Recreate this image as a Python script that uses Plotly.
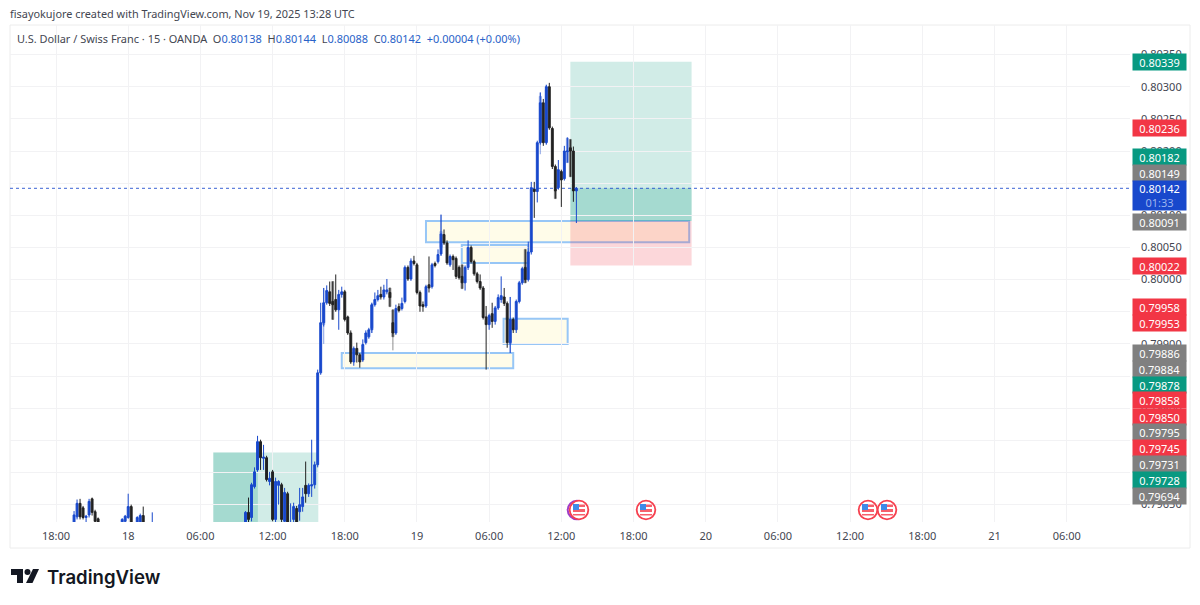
import datetime as dt
import plotly.graph_objects as go

W, H = 1200, 605
L, R, T, B = 10, 1130, 25, 522
FONT = "Noto Sans"

# ---- data -------------------------------------------------------------
first_time = dt.datetime(2025, 11, 17, 18, 0)
bar_minutes = 15
bar_slots = [*range(6, 15), *range(22, 26), *range(27, 30), 32, *range(63, 174)]

open_prices = [
 .79610,.79631,.79652,.79645,.79630,.79634,.79659,.79639,.79628,
 .79620,.79624,.79630,.79647,.79612,.79615,.79633,.79610,
 .79610,.79638,.79630,.79678,.79704,.79748,.79722,.79723,.79686,.79701,.79627,.79680,.79681,.79624,.79667,.79610,.79627,.79644,.79639,.79647,.79680,.79667,.79679,.79681,
 .79712,.79855,.79933,.79964,.79981,.79966,.79969,.79953,.79977,.79981,.79942,.79917,.79872,.79893,.79883,.79875,.79902,.79911,.79922,.79961,.79969,.79977,.79973,.79981,.79980,
 .79933,.79917,.79958,.79955,.79966,.80019,.80001,.80029,.80023,.79980,.79961,.79959,.79992,.79989,.80025,.80028,.80040,.80070,.80057,.80023,.80036,.80033,.80019,.80005,.79995,.80019,.80050,.80028,.80009,.79997,.79987,.79942,.79930,.79947,.79935,.79956,.79969,.79973,.79963,.79902,.79938,.79922,.79966,.79995,.80019,.80000,
 .80043,.80141,.80137,.80213,.80275,.80213,.80300,.80235,.80176,.80143,.80168,.80157,.80199,.80205,.80200,.80138]
close_prices = [
 .79634,.79652,.79631,.79630,.79632,.79655,.79638,.79624,.79622,
 .79627,.79632,.79647,.79610,.79630,.79633,.79610,.79615,
 .79638,.79627,.79681,.79701,.79748,.79723,.79724,.79689,.79691,.79627,.79686,.79686,.79627,.79669,.79610,.79620,.79647,.79610,.79650,.79662,.79667,.79680,.79681,.79712,
 .79855,.79933,.79964,.79983,.79963,.79961,.79953,.79977,.79981,.79938,.79917,.79872,.79893,.79883,.79872,.79899,.79917,.79922,.79961,.79969,.79975,.79973,.79984,.79984,.79972,
 .79917,.79955,.79952,.79963,.80019,.80001,.80029,.80025,.79980,.79959,.79958,.79989,.79987,.80023,.80022,.80039,.80071,.80057,.80026,.80036,.80031,.80005,.80003,.79995,.80019,.80050,.80028,.80009,.79997,.79987,.79941,.79930,.79944,.79935,.79956,.79972,.79975,.79963,.79902,.79938,.79922,.79966,.79995,.80017,.80000,.80043,
 .80143,.80137,.80213,.80275,.80213,.80300,.80236,.80176,.80138,.80171,.80155,.80200,.80200,.80200,.80138,.80142]
high_prices = [
 .79640,.79658,.79659,.79648,.79634,.79659,.79661,.79642,.79630,
 .79629,.79634,.79667,.79650,.79632,.79636,.79647,.79638,
 .79640,.79661,.79684,.79708,.79757,.79751,.79743,.79726,.79701,.79704,.79692,.79688,.79684,.79676,.79670,.79652,.79653,.79648,.79676,.79676,.79717,.79683,.79751,.79717,
 .79860,.79964,.79987,.79991,.79997,.79997,.80008,.79984,.79989,.79984,.79944,.79921,.79896,.79902,.79886,.79907,.79921,.79925,.79964,.79980,.79984,.79989,.79992,.80001,.79987,
 .79953,.79961,.79963,.79972,.80022,.80022,.80033,.80037,.80026,.79983,.79966,.79992,.80036,.80026,.80028,.80047,.80101,.80078,.80061,.80039,.80039,.80036,.80022,.80023,.80022,.80061,.80053,.80031,.80012,.80008,.79990,.79959,.79947,.79964,.79959,.79977,.80005,.79987,.79966,.79973,.79941,.79969,.79998,.80020,.80047,.80059,
 .80152,.80152,.80216,.80291,.80281,.80303,.80306,.80238,.80179,.80186,.80171,.80208,.80221,.80218,.80207,.80144]
low_prices = [
 .79600,.79627,.79627,.79627,.79620,.79630,.79633,.79615,.79615,
 .79615,.79620,.79628,.79600,.79605,.79605,.79600,.79600,
 .79600,.79619,.79624,.79675,.79701,.79704,.79704,.79686,.79680,.79624,.79621,.79650,.79621,.79610,.79600,.79600,.79620,.79600,.79625,.79639,.79653,.79662,.79662,.79675,
 .79708,.79852,.79927,.79961,.79959,.79938,.79950,.79922,.79972,.79935,.79914,.79869,.79866,.79871,.79863,.79872,.79899,.79908,.79917,.79958,.79966,.79969,.79969,.79977,.79958,
 .79911,.79914,.79949,.79952,.79963,.79998,.79998,.80022,.79977,.79950,.79950,.79956,.79980,.79986,.80019,.80025,.80037,.80054,.80023,.80020,.80015,.80001,.80000,.79986,.79983,.80015,.80025,.80006,.79994,.79984,.79938,.79860,.79922,.79925,.79930,.79953,.79964,.79959,.79894,.79886,.79917,.79917,.79963,.79992,.79995,.79997,
 .80039,.80096,.80120,.80210,.80208,.80210,.80233,.80172,.80126,.80140,.80113,.80154,.80182,.80160,.80121,.80088]

# faint double-exposed candles
ghost_up_slots = [89, 105, 128, 151, 161, 163, 170]
ghost_up_open = [.79930, .79925, .80050, .79900, .80215, .80215, .80182]
ghost_up_close = [.79960, .79960, .80075, .79938, .80285, .80295, .80220]
ghost_up_high = [.79987, .79964, .80101, .79973, .80291, .80303, .80221]
ghost_up_low = [.79900, .79917, .80037, .79886, .80195, .80210, .80182]
ghost_down_slots = [92, 111, 112, 135, 156, 166, 171]
ghost_down_open = [.79997, .79987, .79953, .80023, .80047, .80138, .80218]
ghost_down_close = [.79938, .79958, .79911, .79986, .79995, .80126, .80160]
ghost_down_high = [.79997, .79987, .79953, .80023, .80047, .80138, .80218]
ghost_down_low = [.79938, .79958, .79890, .79986, .79995, .80126, .80160]

y_ticks = [.80350,.80300,.80250,.80200,.80150,.80100,.80050,.80000,.79950,.79900,.79850,.79800,.79750,.79700,.79650]
x_tick_hours = [0,6,12,18,24,30,36,42,48,54,60,66,72,78,84]
x_tick_labels = ["18:00","18","06:00","12:00","18:00","19","06:00","12:00","18:00","20","06:00","12:00","18:00","21","06:00"]

last_price = .80142
tag_text = ["0.80339","0.80236","0.80182","0.80149","0.80091","0.80022","0.79958","0.79953","0.79886","0.79884","0.79878","0.79858","0.79850","0.79795","0.79745","0.79731","0.79728","0.79694"]
tag_kind = ["g","r","g","n","n","r","r","r","n","n","g","r","r","n","r","n","g","n"]

# long-position tools (price levels)
long_a = dict(start=171, end=211.3, target=.80339, current=.80142, entry=.80091, stop=.80022)
long_b = dict(start=52.3, end=87.2, split=67.1, target=.79731, floor=.79600)
# zones: start slot, end slot, upper price, lower price
zones = [(123.0, 210.5, .80091, .80058),
         (134.9, 157.0, .80054, .80026),
         (95.0, 152.0, .79886, .79862),
         (148.8, 170.1, .79939, .79900)]

# ---- layout helpers -----------------------------------------------------
def t_of(slot):
    return first_time + dt.timedelta(minutes=bar_minutes * slot)
def px(x): return (x - L) / (R - L)
def py(y): return (B - y) / (B - T)

TAG_COLORS = {"g": "#089981", "r": "#f23645", "n": "#808080"}
TAG_Y = [62,128,157,173,222,266,307,323,353,369,385,400,417,432,448,464,480,496]
BLUE = "#1848cc"
BLACK = "#222222"

def candles(x, o, h, l, c, up, down, opacity=1.0):
    return go.Candlestick(
        x=x, open=o, high=h, low=l, close=c, opacity=opacity,
        increasing=dict(line=dict(color=up, width=1), fillcolor=up),
        decreasing=dict(line=dict(color=down, width=1), fillcolor=down),
        showlegend=False, hoverinfo="skip")

fig = go.Figure()
fig.add_trace(candles([t_of(s) for s in ghost_up_slots], ghost_up_open, ghost_up_high, ghost_up_low, ghost_up_close, BLUE, BLUE, 0.5))
fig.add_trace(candles([t_of(s) for s in ghost_down_slots], ghost_down_open, ghost_down_high, ghost_down_low, ghost_down_close, BLACK, BLACK, 0.5))
fig.add_trace(candles([t_of(s) for s in bar_slots], open_prices, high_prices, low_prices, close_prices, BLUE, BLACK))

shapes = []
def rect_data(x0, x1, y0, y1, fill, line=None, lw=0):
    shapes.append(dict(type="rect", xref="x", yref="y", x0=t_of(x0), x1=t_of(x1), y0=y0, y1=y1,
                       fillcolor=fill, line=dict(color=line or "rgba(0,0,0,0)", width=lw), layer="below"))
def rect_px(x0, x1, y0, y1, fill, line=None, lw=0, layer="above"):
    shapes.append(dict(type="rect", xref="paper", yref="paper", x0=px(x0), x1=px(x1), y0=py(y0), y1=py(y1),
                       fillcolor=fill, line=dict(color=line or "rgba(0,0,0,0)", width=lw), layer=layer))
def circ_px(cx, cy, r, fill, line=None, lw=0):
    shapes.append(dict(type="circle", xref="paper", yref="paper", x0=px(cx-r), x1=px(cx+r), y0=py(cy+r), y1=py(cy-r),
                       fillcolor=fill, line=dict(color=line or "rgba(0,0,0,0)", width=lw), layer="above"))

# frame
rect_px(10, 1190, 25, 548, "rgba(0,0,0,0)", "#ececec", 1, "below")

GREEN = "rgba(8,153,129,0.19)"
GREEN_D = "rgba(8,153,129,0.22)"
PINK = "rgba(242,54,69,0.2)"
rect_data(long_b["start"], long_b["end"], long_b["floor"], long_b["target"], GREEN)
rect_data(long_b["start"], long_b["split"], long_b["floor"], long_b["target"], GREEN_D)

for z in zones:
    rect_data(z[0], z[1], z[3], z[2], "rgba(255,251,226,0.75)", "#97c6f6", 2)

rect_data(long_a["start"], long_a["end"], long_a["entry"], long_a["target"], GREEN)
rect_data(long_a["start"], long_a["end"], long_a["entry"], long_a["current"], GREEN_D)
rect_data(long_a["start"], long_a["end"], long_a["stop"], long_a["entry"], PINK)

# last price line
shapes.append(dict(type="line", xref="paper", yref="y", x0=0, x1=1, y0=last_price, y1=last_price,
                   line=dict(color="rgba(24,72,204,0.85)", width=1, dash="dot"), layer="above"))

# event flags
def flag(cx, cy=510):
    circ_px(cx, cy, 9.3, "#ffffff", "#f6404f", 1.8)
    rect_px(cx-6, cx+6, cy-5.5, cy+5.5, "#f6606c")
    rect_px(cx-6, cx+6, cy-3, cy-1, "#ffffff")
    rect_px(cx-6, cx+6, cy+2, cy+4, "#ffffff")
    rect_px(cx-6, cx, cy-6, cy, "#3f8ae8")
circ_px(577, 510, 9.3, "#ffffff", "#a03cc8", 2)
for cx in (579, 646, 868, 887):
    flag(cx)

# logo
rect_px(11, 23, 569, 575, "#131722")
rect_px(17, 23, 569, 583, "#131722")
circ_px(27.5, 572, 3, "#131722")
shapes.append(dict(type="path", xref="paper", yref="paper",
    path=f"M {px(33)} {py(569)} L {px(39)} {py(569)} L {px(32.5)} {py(583)} L {px(26)} {py(583)} Z",
    fillcolor="#131722", line=dict(width=0), layer="above"))

anns = []
def text(x, y, s, size=11, color="#434651", anchor="left", weight=None, family=FONT):
    f = dict(family=family, size=size, color=color)
    if weight: f["weight"] = weight
    anns.append(dict(xref="paper", yref="paper", x=px(x), y=py(y), text=s, showarrow=False,
                     xanchor=anchor, yanchor="middle", font=f, align="left"))

text(8, 14, "fisayokujore created with TradingView.com, Nov 19, 2025 13:28 UTC", 10.9, "#434651")
v = lambda s: f'<span style="color:#2962c8">{s}</span>'
text(15, 39, "U.S. Dollar / Swiss Franc · 15 · OANDA  O" + v("0.80138") + "  H" + v("0.80144") + "  L" + v("0.80088")
     + "  C" + v("0.80142") + "  " + v("+0.00004 (+0.00%)"), 10.95, "#434651")
text(45, 577, "TradingView", 18.6, "#131722", weight=600, family="Inter")

for s, k, y in zip(tag_text, tag_kind, TAG_Y):
    anns.append(dict(xref="paper", yref="paper", x=px(1159.5), y=py(y), text=s, showarrow=False,
                     xanchor="center", yanchor="middle", width=53, height=16, bgcolor=TAG_COLORS[k],
                     font=dict(family=FONT, size=11, color="#ffffff"), borderpad=0))
anns.append(dict(xref="paper", yref="paper", x=px(1159.5), y=py(195), showarrow=False,
                 text='0.80142<br><span style="color:#9db4ee">01:33</span>',
                 xanchor="center", yanchor="middle", width=53, height=29, bgcolor=BLUE,
                 font=dict(family=FONT, size=11, color="#ffffff"), borderpad=0))

fig.update_layout(
    width=W, height=H, autosize=False, margin=dict(l=L, r=W-R, t=T, b=H-B),
    paper_bgcolor="#ffffff", plot_bgcolor="#ffffff", showlegend=False,
    shapes=shapes, annotations=anns, dragmode=False, boxgap=0.1, boxmode="overlay",
    xaxis=dict(type="date", range=[t_of((L-56)/3.008), t_of((R-56)/3.008)],
               tickvals=[first_time + dt.timedelta(hours=h) for h in x_tick_hours], ticktext=x_tick_labels,
               tickangle=0, showgrid=True, gridcolor="#f2f2f4", gridwidth=1, zeroline=False, showline=False,
               rangeslider=dict(visible=False), ticks="", ticklabelstandoff=6,
               tickfont=dict(family=FONT, size=11, color="#434651")),
    yaxis=dict(side="right", range=[.79623, .80396], tickvals=y_ticks, ticktext=[f"{p:.5f}" for p in y_ticks],
               showgrid=True, gridcolor="#f2f2f4", gridwidth=1, zeroline=False, showline=False, ticks="",
               ticklabelstandoff=10, tickfont=dict(family=FONT, size=11, color="#434651")),
)

fig.write_html("out.html", post_script="document.body.style.margin='0';document.body.style.overflow='hidden';",
               config=dict(displayModeBar=False))
